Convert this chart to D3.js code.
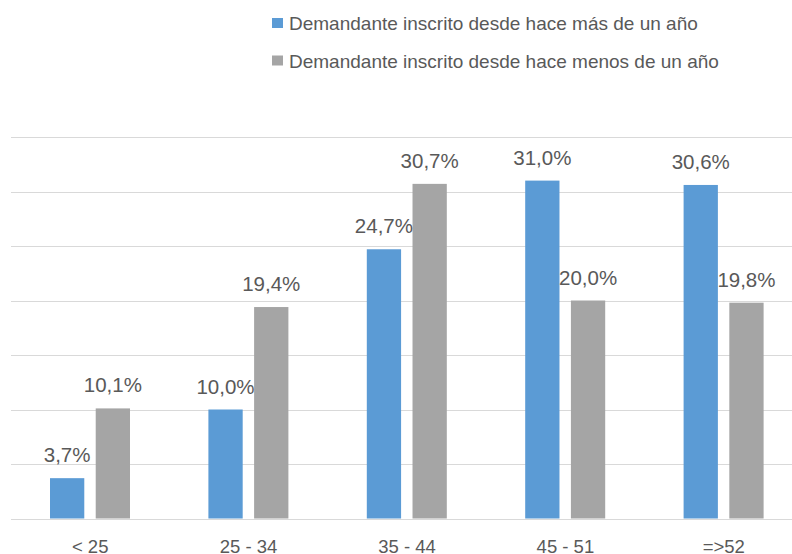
<!DOCTYPE html>
<html>
<head>
<meta charset="utf-8">
<script src="https://cdn.jsdelivr.net/npm/d3@7"></script>
<style>
  body { margin: 0; background: #fff; }
  text { font-family: "Liberation Sans", Arial, sans-serif; fill: #595959; }
</style>
</head>
<body>
<svg id="chart" width="792" height="554"></svg>
<script>
var categories = ["< 25", "25 - 34", "35 - 44", "45 - 51", "=>52"];
var seriesNames = ["Demandante inscrito desde hace más de un año",
                   "Demandante inscrito desde hace menos de un año"];
var masDeUnAno = [3.7, 10.0, 24.7, 31.0, 30.6];
var menosDeUnAno = [10.1, 19.4, 30.7, 20.0, 19.8];
var gridTicks = [0, 5, 10, 15, 20, 25, 30, 35];
var colors = ["#5B9BD5", "#A5A5A5"];

var svg = d3.select("#chart");

var x = d3.scaleBand()
    .domain(categories)
    .range([11, 803])
    .paddingInner(0)
    .paddingOuter(0);

var y = d3.scaleLinear()
    .domain([0, 35])
    .range([518.5, 137]);

var inner = d3.scaleBand()
    .domain([0, 1])
    .range([39, 119])
    .paddingInner(0.25);

// gridlines
svg.append("g")
  .selectAll("line")
  .data(gridTicks)
  .join("line")
    .attr("x1", 11)
    .attr("x2", 792)
    .attr("y1", function(d) { return Math.round(y(d)) + 0.5; })
    .attr("y2", function(d) { return Math.round(y(d)) + 0.5; })
    .attr("stroke", "#D9D9D9")
    .attr("stroke-width", 1);

var rows = [];
categories.forEach(function(c, i) {
    rows.push({cat: c, s: 0, v: masDeUnAno[i]});
    rows.push({cat: c, s: 1, v: menosDeUnAno[i]});
});

var fmt = function(v) { return v.toFixed(1).replace(".", ",") + "%"; };

svg.append("g")
  .selectAll("rect")
  .data(rows)
  .join("rect")
    .attr("x", function(d) { return x(d.cat) + inner(d.s); })
    .attr("width", inner.bandwidth())
    .attr("y", function(d) { return y(d.v); })
    .attr("height", function(d) { return y(0) - y(d.v); })
    .attr("fill", function(d) { return colors[d.s]; });

svg.append("g")
  .selectAll("text")
  .data(rows)
  .join("text")
    .attr("x", function(d) { return x(d.cat) + inner(d.s) + inner.bandwidth() / 2; })
    .attr("y", function(d) { return y(d.v) - 16; })
    .attr("text-anchor", "middle")
    .style("font-size", "20.5px")
    .text(function(d) { return fmt(d.v); });

// category labels
svg.append("g")
  .selectAll("text")
  .data(categories)
  .join("text")
    .attr("x", function(d) { return x(d) + x.bandwidth() / 2; })
    .attr("y", 552.5)
    .attr("text-anchor", "middle")
    .style("font-size", "18.5px")
    .text(function(d) { return d; });

// legend
var legend = svg.append("g")
  .selectAll("g")
  .data(seriesNames)
  .join("g")
    .attr("transform", function(d, i) { return "translate(272," + (30 + i * 37.5) + ")"; });

legend.append("rect")
    .attr("x", 0)
    .attr("y", -12)
    .attr("width", 11)
    .attr("height", 10)
    .attr("fill", function(d, i) { return colors[i]; });

legend.append("text")
    .attr("x", 17)
    .attr("y", 0)
    .style("font-size", "19px")
    .text(function(d) { return d; });
</script>
</body>
</html>
